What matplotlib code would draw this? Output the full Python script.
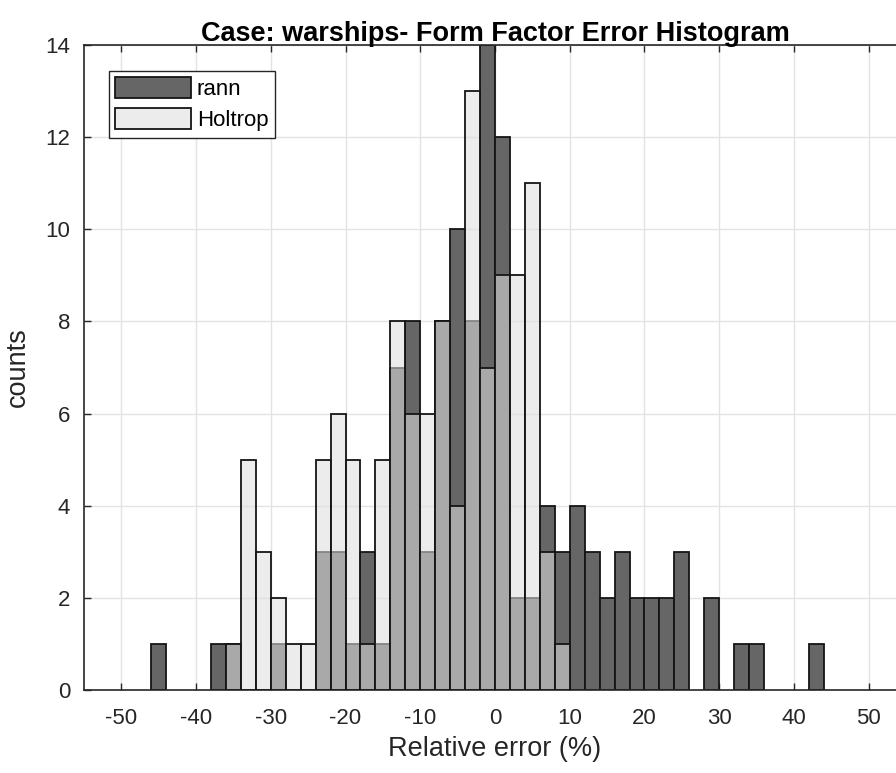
import numpy as np
import matplotlib

matplotlib.use("Agg")

import matplotlib.pyplot as plt

# ==================================================
# DATA (bin width 2 %, left edges)
# ==================================================

BIN_WIDTH = 2

rann_edges = [-46, -38, -36, -30, -24, -22, -20, -18, -16, -14, -12, -10,
              -8, -6, -4, -2, 0, 2, 4, 6, 8, 10, 12, 14, 16, 18, 20, 22,
              24, 28, 32, 34, 42]
rann_counts = [1, 1, 1, 1, 3, 3, 1, 3, 1, 7, 8, 3,
               8, 10, 8, 14, 12, 2, 2, 4, 3, 4, 3, 2, 3, 2, 2, 2,
               3, 2, 1, 1, 1]

holtrop_edges = [-36, -34, -32, -30, -28, -26, -24, -22, -20, -18, -16,
                 -14, -12, -10, -8, -6, -4, -2, 0, 2, 4, 6, 8]
holtrop_counts = [1, 5, 3, 2, 1, 1, 5, 6, 5, 1, 5,
                  8, 6, 6, 8, 4, 13, 7, 9, 9, 11, 3, 1]

plt.rcParams["font.family"] = ["Liberation Sans", "DejaVu Sans"]
plt.rcParams["axes.unicode_minus"] = False

# ==================================================
# FIGURE
# ==================================================

fig = plt.figure(figsize=(8.96, 7.73), dpi=100)
ax = fig.add_axes([84 / 896, 83 / 773, 822 / 896, 645 / 773])

ax.bar(
    rann_edges,
    rann_counts,
    width=BIN_WIDTH,
    align="edge",
    color="#666666",
    edgecolor="#151515",
    linewidth=1.3,
    label="rann",
    zorder=2
)

ax.bar(
    holtrop_edges,
    holtrop_counts,
    width=BIN_WIDTH,
    align="edge",
    color=(0.87, 0.87, 0.87, 0.56),
    edgecolor="#151515",
    linewidth=1.3,
    label="Holtrop",
    zorder=3
)

ax.set_xlim(-55, 55)
ax.set_ylim(0, 14)
ax.set_xticks(np.arange(-50, 51, 10))
ax.set_yticks(np.arange(0, 15, 2))

ax.grid(True, color="#e3e3e3", linewidth=1.0, zorder=0)
ax.set_axisbelow(True)

ax.tick_params(
    direction="in",
    top=True,
    right=True,
    length=5,
    width=1,
    labelsize=16,
    colors="#262626",
    pad=10
)
ax.tick_params(axis="x", pad=13)

for spine in ax.spines.values():
    spine.set_color("#262626")
    spine.set_linewidth(1.2)

ax.set_title(
    "Case: warships- Form Factor Error Histogram",
    fontsize=19.5,
    weight="bold",
    pad=3
)

ax.set_xlabel("Relative error (%)", fontsize=19.5, color="#262626", labelpad=5)
ax.set_ylabel("counts", fontsize=19.5, color="#262626", labelpad=10)

ax.legend(
    loc="upper left",
    bbox_to_anchor=(0.030, 0.960),
    fontsize=16,
    frameon=True,
    fancybox=False,
    edgecolor="#262626",
    framealpha=1,
    handlelength=3.4,
    handleheight=1.05,
    handletextpad=0.27,
    borderpad=0.3,
    labelspacing=0.35,
    borderaxespad=0
)

plt.savefig("out.png", dpi=100)
plt.close()
